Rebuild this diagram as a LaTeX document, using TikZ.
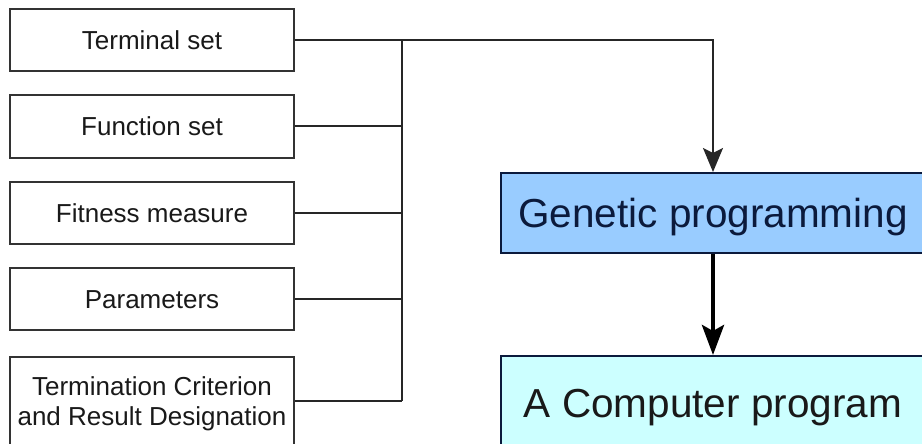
\documentclass[tikz,border=0pt]{standalone}
\usepackage{fontspec}
\setmainfont{Liberation Sans}
\usepackage{xcolor}
\usetikzlibrary{arrows.meta,positioning}

\definecolor{gpblue}{HTML}{99CCFF}
\definecolor{progcyan}{HTML}{CCFFFF}
\definecolor{gpnavy}{HTML}{0B1A3C}

\begin{document}
\begin{tikzpicture}[x=1pt, y=-1pt, >={Stealth[length=24pt,width=20pt,inset=5pt]},
        inbox/.style={draw=black!80, line width=2pt, minimum width=284pt, minimum height=62pt,
          inner sep=0pt, text=black!90, font=\fontsize{26}{30}\selectfont, text height=18.5pt, text depth=0pt},
        bigbox/.style={draw=gpnavy, line width=2pt, minimum width=424pt, inner sep=0pt,
          font=\fontsize{40.5}{48}\selectfont, text height=29pt, text depth=0pt},
        wire/.style={line width=2pt, black!85}]
        \useasboundingbox (0,0) rectangle (922,444);
        \fill[white] (0,0) rectangle (922,444);

        \node[inbox] (term) at (152,40) {Terminal set};
        \node[inbox] (func) at (152,126.5) {Function set};
        \node[inbox] (fit) at (152,213) {Fitness measure};
        \node[inbox] (par) at (152,299) {Parameters};
        \node[inbox, minimum height=88pt, align=center, text height=48pt] (crit) at (152,401)
          {Termination Criterion\\and Result Designation};

        \node[bigbox, fill=gpblue, minimum height=80pt, text=gpnavy] (gp) at (713,213) {Genetic programming};
        \node[bigbox, fill=progcyan, minimum height=93pt, text=black!90] (prog) at (713,402.5) {A Computer program};

        \coordinate (bus) at (402,40);
        \draw[wire, ->] (term.east) -| (gp.north);
        \draw[wire] (bus) -- (bus |- crit.east);
        \foreach \n in {func, fit, par, crit}
          \draw[wire] (\n.east) -- (\n.east -| bus);

        \draw[->, line width=4.5pt, >={Stealth[length=30pt,width=22pt,inset=6pt]}] (gp.south) -- (prog.north);
      \end{tikzpicture}
\end{document}
